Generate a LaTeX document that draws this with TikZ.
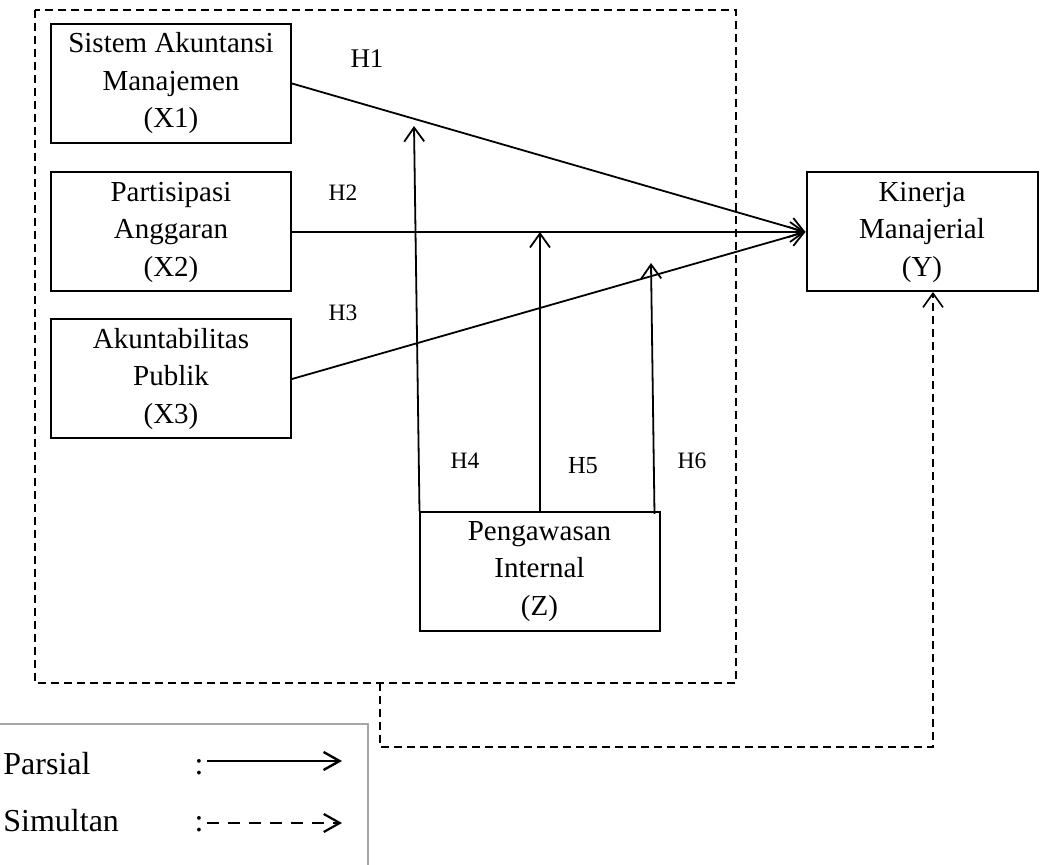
\documentclass[tikz,border=0pt]{standalone}
\usepackage{fontspec}
\setmainfont{Liberation Serif}
\usetikzlibrary{arrows.meta, positioning, calc}
\newcommand{\lbl}{\fontsize{14.5}{18.75}\selectfont}
\newcommand{\hyptxt}{\fontsize{11.75}{14}\selectfont}
\newcommand{\legtxt}{\fontsize{16}{19}\selectfont}

\begin{document}
\begin{tikzpicture}[
    x=0.5pt, y=-0.5pt,
    var/.style={draw, line width=1pt, align=center, minimum width=120pt,
        minimum height=59.5pt, inner sep=0pt, font=\lbl},
    hyp/.style={font=\hyptxt, inner sep=0pt},
    part/.style={line width=0.9pt, -{Straight Barb[length=7pt, width=10pt]}},
    simul/.style={line width=0.8pt, dash pattern=on 4pt off 2.5pt,
        -{Straight Barb[length=7pt, width=10pt]}},
    outline/.style={line width=0.8pt, dash pattern=on 4pt off 2.5pt}
]
\useasboundingbox (0,0) rectangle (1041,865);

\node[var] (x1) at (171,83.5) {Sistem Akuntansi\\Manajemen\\(X1)};
\node[var] (x2) at (171,232) {Partisipasi\\Anggaran\\(X2)};
\node[var] (x3) at (171,379) {Akuntabilitas\\Publik\\(X3)};
\node[var, minimum width=115.5pt] (y) at (922,232) {Kinerja\\Manajerial\\(Y)};
\node[var] (z) at (539.5,571.5) {Pengawasan\\Internal\\(Z)};

% dashed frame round the independent variables
\draw[outline] (35,10) rectangle (736,683);
\coordinate (fb) at (380,683);
\coordinate (ytip) at (933,292);
\draw[simul] (fb) -- (380,747) -| (ytip);

% partial paths
\draw[part] (x1.east) -- (y.west);
\draw[part] (x2.east) -- (y.west);
\draw[part] (x3.east) -- (y.west);

\coordinate (t4) at (414,126);
\coordinate (t5) at (540,232);
\coordinate (t6) at (651,263);
\draw[part] ($(z.north west)+(1,0)$) -- (t4);
\draw[part] (t5 |- z.north) -- (t5);
\draw[part] ($(z.north east)+(-6,3)$) -- (t6);

\node[hyp, font=\fontsize{13.5}{16}\selectfont] (h1) at (367,59) {H1};
\node[hyp] (h2) at (343,193) {H2};
\node[hyp] (h3) at (343,313) {H3};
\node[hyp] (h4) at (465,461) {H4};
\node[hyp, font=\fontsize{12.25}{14}\selectfont] (h5) at (583,466) {H5};
\node[hyp] (h6) at (692,461) {H6};

% legend
\draw[gray!70, line width=0.6pt] (-2,724) -- (368,724) -- (368,870);
\node[anchor=base west, font=\legtxt, inner sep=0pt] (parsial) at (3,775) {Parsial};
\node[anchor=base west, font=\legtxt, inner sep=0pt] (simultan) at (3,832) {Simultan};
\node[anchor=base, font=\legtxt, inner sep=0pt] (c1) at (199,775) {:};
\node[anchor=base, font=\legtxt, inner sep=0pt] (c2) at (199,832) {:};
\coordinate (p1) at (342,761);
\coordinate (p2) at (342,823);
\draw[part, line width=1.2pt, -{Straight Barb[length=8pt, width=9pt]}] (c1.east |- p1) ++(3,0) -- (p1);
\draw[simul, line width=1.1pt, dash pattern=on 6pt off 4.5pt,
    -{Straight Barb[length=8pt, width=9pt]}] (c2.east |- p2) ++(3,0) -- (p2);

\end{tikzpicture}
\end{document}
